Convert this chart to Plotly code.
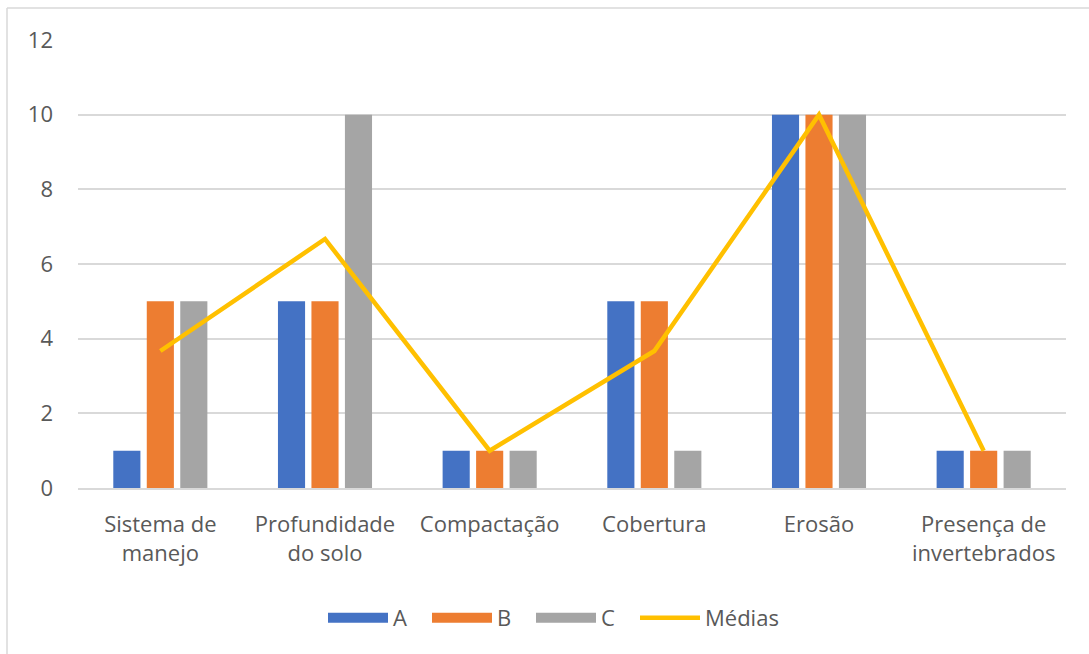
import plotly.graph_objects as go

categories = ["Sistema de<br>manejo", "Profundidade<br>do solo", "Compactação", "Cobertura", "Erosão", "Presença de<br>invertebrados"]
serie_a = [1, 5, 1, 5, 10, 1]
serie_b = [5, 5, 1, 5, 10, 1]
serie_c = [5, 10, 1, 1, 10, 1]
medias = [3.67, 6.67, 1, 3.67, 10, 1]
y_ticks = [0, 2, 4, 6, 8, 10, 12]

colors = {"A": "#4472C4", "B": "#ED7D31", "C": "#A5A5A5", "Médias": "#FFC000"}

W, H = 1089, 654
L, R, T, B = 78, 23, 40, 166
pw, ph = W - L - R, H - T - B

font = dict(family="Open Sans, sans-serif", size=22, color="#595959")

fig = go.Figure()
for name, vals in (("A", serie_a), ("B", serie_b), ("C", serie_c)):
    fig.add_bar(x=categories, y=vals, name=name, showlegend=False,
                marker=dict(color=colors[name], line=dict(width=0)))
fig.add_scatter(x=categories, y=medias, name="Médias", mode="lines", showlegend=False,
                line=dict(color=colors["Médias"], width=4.5))

# legend proxies (wide rectangles like the original legend keys)
for name in ("A", "B", "C"):
    fig.add_scatter(x=[None], y=[None], name=name, mode="lines", legend="legend",
                    line=dict(color=colors[name], width=15))
fig.add_scatter(x=[None], y=[None], name="Médias", mode="lines", legend="legend2",
                line=dict(color=colors["Médias"], width=4.5))

def px(x):
    return (x - L) / pw

def py(y):
    return (H - B - y) / ph

shapes = [
    dict(type="line", xref="paper", yref="paper", x0=px(7), x1=px(1089), y0=py(8), y1=py(8),
         line=dict(color="#D9D9D9", width=1.5)),
    dict(type="line", xref="paper", yref="paper", x0=px(7), x1=px(7), y0=py(8), y1=py(654),
         line=dict(color="#D9D9D9", width=1.5)),
]

fig.update_layout(
    width=W, height=H,
    margin=dict(l=L, r=R, t=T, b=B),
    paper_bgcolor="white", plot_bgcolor="white",
    barmode="group", bargap=0.39, bargroupgap=0.19,
    font=font,
    showlegend=True,
    legend=dict(orientation="h", x=px(323), xanchor="left", y=py(618), yanchor="middle",
                font=font, itemwidth=60, traceorder="normal",
                entrywidth=29, entrywidthmode="pixels"),
    legend2=dict(orientation="h", x=px(635), xanchor="left", y=py(618), yanchor="middle",
                 font=font, itemwidth=60),
    shapes=shapes,
    xaxis=dict(showgrid=False, showline=True, linecolor="#D9D9D9", linewidth=1.5,
               ticks="", tickfont=font, fixedrange=True, ticklabelstandoff=16),
    yaxis=dict(range=[0, 12], tickvals=y_ticks, showgrid=True, gridcolor="#D9D9D9", gridwidth=1.5,
               zeroline=False, showline=False, ticks="", tickfont=font, ticklabelstandoff=24),
)

fig.write_html("out.html")
